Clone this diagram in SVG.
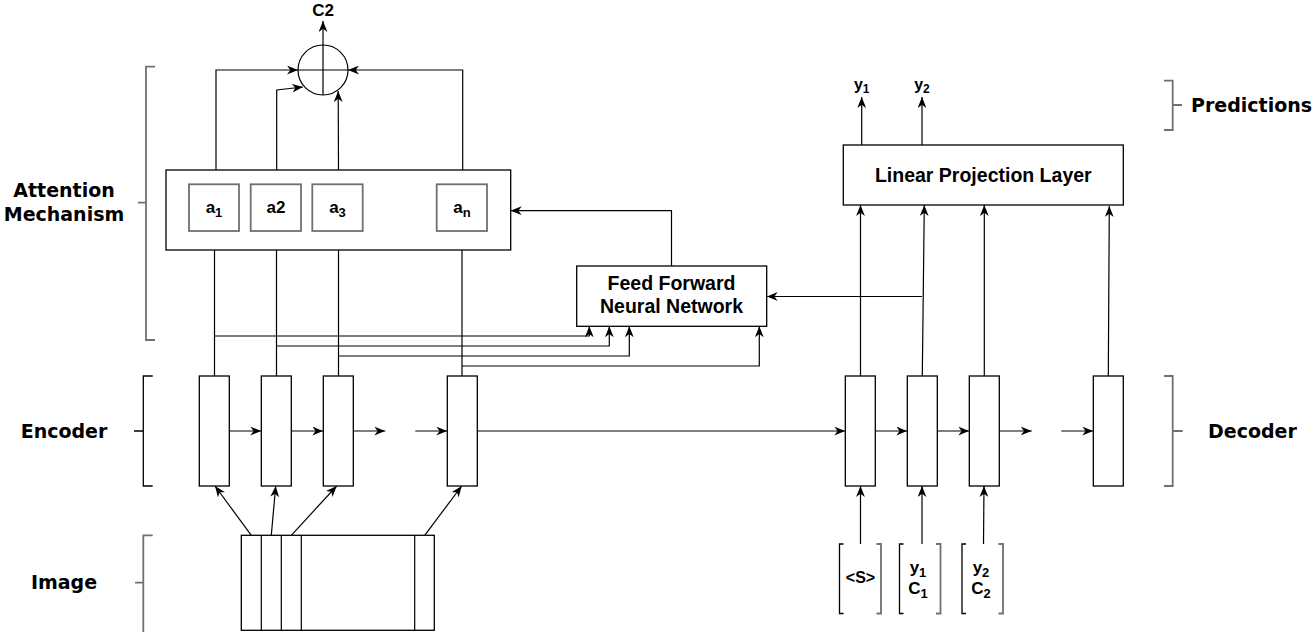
<svg xmlns="http://www.w3.org/2000/svg" width="1316" height="632" viewBox="0 0 1316 632">
<style>
.box{fill:#fff;stroke:#000;stroke-width:1.3}
.abox{fill:#fff;stroke:#707070;stroke-width:1.8}
.ln{fill:none;stroke:#000;stroke-width:1.2}
.arr{fill:none;stroke:#000;stroke-width:1.2;marker-end:url(#ah)}
.br{fill:none;stroke:#000;stroke-width:1.3}
.brg{fill:none;stroke:#707070;stroke-width:1.8}
.lab{font-family:"DejaVu Sans",Verdana,sans-serif;font-weight:bold;font-size:19px;fill:#000}
.bt{font-family:"Liberation Sans",Arial,sans-serif;font-weight:bold;font-size:19.5px;fill:#000;text-anchor:middle}
.st{font-family:"Liberation Sans",Arial,sans-serif;font-weight:bold;font-size:17px;fill:#000;text-anchor:middle}
.sub{font-size:13px}
</style>
<defs>
<marker id="ah" viewBox="0 0 10 8" refX="10" refY="4" markerWidth="11" markerHeight="9" markerUnits="userSpaceOnUse" orient="auto">
<path d="M0,0 L10,4 L0,8 L3,4 Z" fill="#000"/>
</marker>
</defs>

<g id="labels">
<text class="lab" x="64" y="197" text-anchor="middle">Attention</text>
<text class="lab" x="64" y="221" text-anchor="middle">Mechanism</text>
<text class="lab" x="64" y="438" text-anchor="middle">Encoder</text>
<text class="lab" x="64" y="589" text-anchor="middle">Image</text>
<text class="lab" x="1191" y="112">Predictions</text>
<text class="lab" x="1208" y="438">Decoder</text>
</g>

<g id="brackets">
<path class="brg" d="M155,66.7 H146 V340 H155 M138,202.7 H146"/>
<path class="br" d="M152.7,376 H143.3 V486 H152.7 M134,431 H143.3"/>
<path class="brg" d="M152.7,535.3 H143.3 V632 M135,582.7 H143.3"/>
<path class="brg" d="M1164,80.7 H1172.7 V130 H1164 M1172.7,105 H1182"/>
<path class="brg" d="M1164,376 H1172.7 V486 H1164 M1172.7,431 H1182.7"/>
</g>

<g id="connectors">
<path class="arr" d="M323,45 V21"/>
<path class="arr" d="M216,170 V70 H298"/>
<path class="arr" d="M276.7,170 V90 L303,87"/>
<path class="arr" d="M338.5,170 L338.2,91"/>
<path class="arr" d="M462.7,184 V70 H348"/>
<path class="arr" d="M214.5,376 V231"/>
<path class="arr" d="M276.5,376 V231"/>
<path class="arr" d="M338.5,376 V231"/>
<path class="arr" d="M462,376 V231"/>
<path class="arr" d="M214.5,336 H589.3 V326.3"/>
<path class="arr" d="M276.5,346 H609.3 V326.3"/>
<path class="arr" d="M338.5,356 H629.3 V326.3"/>
<path class="arr" d="M462,366 H759.3 V326.3"/>
<path class="arr" d="M671.5,266 V210.7 H510.7"/>
<path class="arr" d="M922,296.5 H766.7"/>
<path class="arr" d="M860.5,376 V205"/>
<path class="arr" d="M922.3,376 L924.3,205"/>
<path class="arr" d="M984.3,376 V205"/>
<path class="arr" d="M1108.3,376 L1109.3,206"/>
<path class="arr" d="M861.7,145 V97"/>
<path class="arr" d="M922,145 V97"/>
<path class="arr" d="M229.3,431 H261.3"/>
<path class="arr" d="M291.3,431 H323.3"/>
<path class="arr" d="M353.3,431 H385.3"/>
<path class="arr" d="M415.3,431 H447.3"/>
<path class="arr" d="M477.3,431 H845.3"/>
<path class="arr" d="M875.3,431 H907.3"/>
<path class="arr" d="M937.3,431 H969.3"/>
<path class="arr" d="M999.3,431 H1031.7"/>
<path class="arr" d="M1061.3,431 H1093.3"/>
<path class="arr" d="M251.3,535.3 L215,486"/>
<path class="arr" d="M271.3,535.3 L275.7,486"/>
<path class="arr" d="M291.3,535.3 L336.7,486"/>
<path class="arr" d="M424.7,535.3 L461.7,486"/>
<path class="arr" d="M860.5,544 V486"/>
<path class="arr" d="M922,544 V486"/>
<path class="arr" d="M983.5,544 L984,486"/>
</g>

<g id="sum">
<circle cx="323" cy="70" r="25" fill="none" stroke="#000" stroke-width="1.2"/>
<path class="ln" d="M323,45 V95 M298,70 H348"/>
<text class="st" x="323" y="16" style="font-size:17px">C2</text>
</g>

<g id="attention">
<rect class="box" x="166" y="170" width="344.7" height="80"/>
</g>
<g id="a1"><rect class="abox" x="189" y="184.3" width="50" height="46.7"/><text class="st" x="214" y="213">a<tspan class="sub" dy="4">1</tspan></text></g>
<g id="a2"><rect class="abox" x="250.7" y="184.3" width="50.3" height="46.7"/><text class="st" x="276" y="213">a2</text></g>
<g id="a3"><rect class="abox" x="312.3" y="184.3" width="50.4" height="46.7"/><text class="st" x="337.5" y="213">a<tspan class="sub" dy="4">3</tspan></text></g>
<g id="an"><rect class="abox" x="436.7" y="184.3" width="50.3" height="46.7"/><text class="st" x="462" y="213">a<tspan class="sub" dy="4">n</tspan></text></g>

<g id="ffnn">
<rect class="box" x="576.7" y="266" width="190" height="60.3"/>
<text class="bt" x="671.5" y="289.5">Feed Forward</text>
<text class="bt" x="671.5" y="313">Neural Network</text>
</g>

<g id="projection">
<rect class="box" x="843.3" y="145" width="280" height="60"/>
<text class="bt" x="983.3" y="181.5">Linear Projection Layer</text>
</g>

<g id="y1out"><text class="st" x="861.7" y="90" style="font-size:16px">y<tspan dy="3" style="font-size:12px">1</tspan></text></g>
<g id="y2out"><text class="st" x="922" y="90" style="font-size:16px">y<tspan dy="3" style="font-size:12px">2</tspan></text></g>

<g id="enc1"><rect class="box" x="199.3" y="376" width="30" height="110"/></g>
<g id="enc2"><rect class="box" x="261.3" y="376" width="30" height="110"/></g>
<g id="enc3"><rect class="box" x="323.3" y="376" width="30" height="110"/></g>
<g id="encn"><rect class="box" x="447.3" y="376" width="30" height="110"/></g>

<g id="dec1"><rect class="box" x="845.3" y="376" width="30" height="110"/></g>
<g id="dec2"><rect class="box" x="907.3" y="376" width="30" height="110"/></g>
<g id="dec3"><rect class="box" x="969.3" y="376" width="30" height="110"/></g>
<g id="decn"><rect class="box" x="1093.3" y="376" width="30" height="110"/></g>

<g id="image">
<rect class="box" x="241.3" y="535.3" width="193" height="95"/>
<path class="ln" d="M261.3,535.3 V630.3 M281.3,535.3 V630.3 M301.3,535.3 V630.3 M414.7,535.3 V630.3"/>
</g>

<g id="in1">
<path class="br" d="M843.5,544 H839.5 V613.5 H843.5"/>
<path class="brg" d="M876.5,544 H881 V613.5 H876.5"/>
<text class="st" x="860.5" y="583" style="font-size:16px">&lt;S&gt;</text>
</g>
<g id="in2">
<path class="br" d="M903.5,544 H899.5 V613.5 H903.5"/>
<path class="brg" d="M936,544 H940.5 V613.5 H936"/>
<text class="st" x="918" y="573">y<tspan class="sub" dy="4">1</tspan></text>
<text class="st" x="918" y="594">C<tspan class="sub" dy="4">1</tspan></text>
</g>
<g id="in3">
<path class="br" d="M966,544 H962 V613.5 H966"/>
<path class="brg" d="M998.5,544 H1003 V613.5 H998.5"/>
<text class="st" x="981" y="573">y<tspan class="sub" dy="4">2</tspan></text>
<text class="st" x="981" y="594">C<tspan class="sub" dy="4">2</tspan></text>
</g>
</svg>
